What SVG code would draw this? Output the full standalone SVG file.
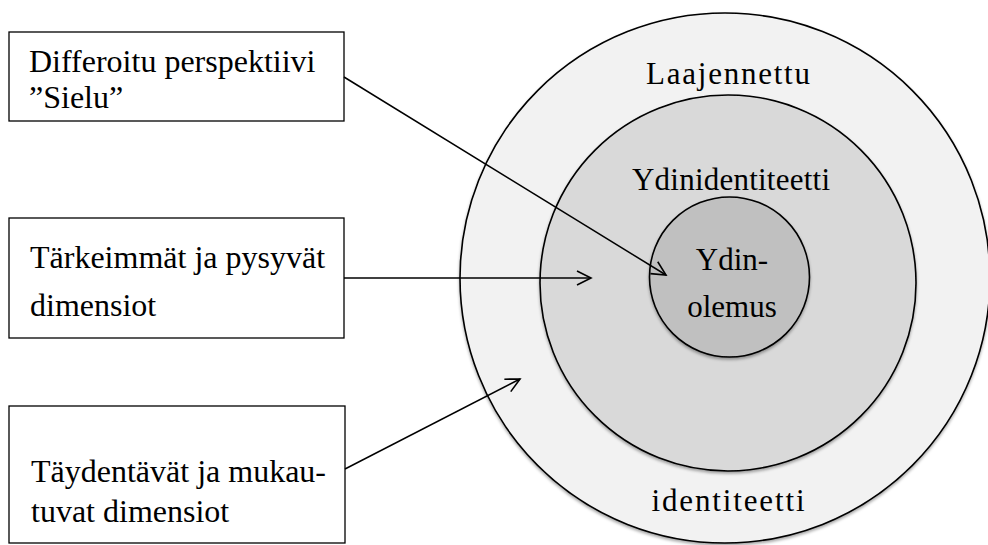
<svg xmlns="http://www.w3.org/2000/svg" width="988" height="545" viewBox="0 0 988 545">
  <style>
    .box { fill: #ffffff; stroke: #000000; stroke-width: 1.3; }
    .ring { stroke: #000000; stroke-width: 1.6; filter: url(#soft); }
    .txt { font-family: "Liberation Serif", "Times New Roman", serif; font-size: 32px; fill: #000000; }
    .lbl { font-family: "Liberation Serif", "Times New Roman", serif; font-size: 31px; fill: #000000; text-anchor: middle; }
    .link { stroke: #000000; stroke-width: 1.5; fill: none; marker-end: url(#open); }
  </style>
  <defs>
    <filter id="soft" x="-10%" y="-10%" width="120%" height="125%">
      <feDropShadow dx="0" dy="2" stdDeviation="1.8" flood-color="#000000" flood-opacity="0.35"/>
    </filter>
    <marker id="open" markerWidth="18" markerHeight="18" refX="15" refY="8" orient="auto" markerUnits="userSpaceOnUse">
      <path d="M1,1 L15,8 L1,15" fill="none" stroke="#000000" stroke-width="1.6" stroke-linejoin="miter"/>
    </marker>
  </defs>

  <!-- concentric identity layers -->
  <g id="laajennettu">
    <circle class="ring" cx="725" cy="278" r="265" fill="#f2f2f2"/>
    <text class="lbl" x="728" y="84" textLength="164" lengthAdjust="spacing">Laajennettu</text>
    <text class="lbl" x="728" y="511" textLength="153" lengthAdjust="spacing">identiteetti</text>
  </g>
  <g id="ydinidentiteetti">
    <circle class="ring" cx="728" cy="283" r="188" fill="#d9d9d9"/>
    <text class="lbl" x="731" y="190" textLength="198" lengthAdjust="spacing">Ydinidentiteetti</text>
  </g>
  <g id="ydinolemus">
    <circle class="ring" cx="729.5" cy="277" r="80" fill="#c0c0c0"/>
    <text class="lbl" x="732" y="270">Ydin-</text>
    <text class="lbl" x="732" y="317">olemus</text>
  </g>

  <!-- description boxes -->
  <g id="sielu">
    <rect class="box" x="9" y="32" width="335" height="89"/>
    <text class="txt" x="29" y="72">Differoitu perspektiivi</text>
    <text class="txt" x="29" y="108">”Sielu”</text>
  </g>
  <g id="pysyvat">
    <rect class="box" x="9" y="218" width="335" height="120"/>
    <text class="txt" x="30" y="268">Tärkeimmät ja pysyvät</text>
    <text class="txt" x="30" y="316">dimensiot</text>
  </g>
  <g id="mukautuvat">
    <rect class="box" x="9" y="406" width="336" height="137"/>
    <text class="txt" x="31" y="482">Täydentävät ja mukau-</text>
    <text class="txt" x="31" y="522">tuvat dimensiot</text>
  </g>

  <!-- connectors -->
  <g id="connectors">
    <line class="link" x1="344" y1="77" x2="666" y2="275"/>
    <line class="link" x1="344" y1="278" x2="591" y2="278"/>
    <line class="link" x1="345" y1="469" x2="520" y2="379"/>
  </g>
</svg>
